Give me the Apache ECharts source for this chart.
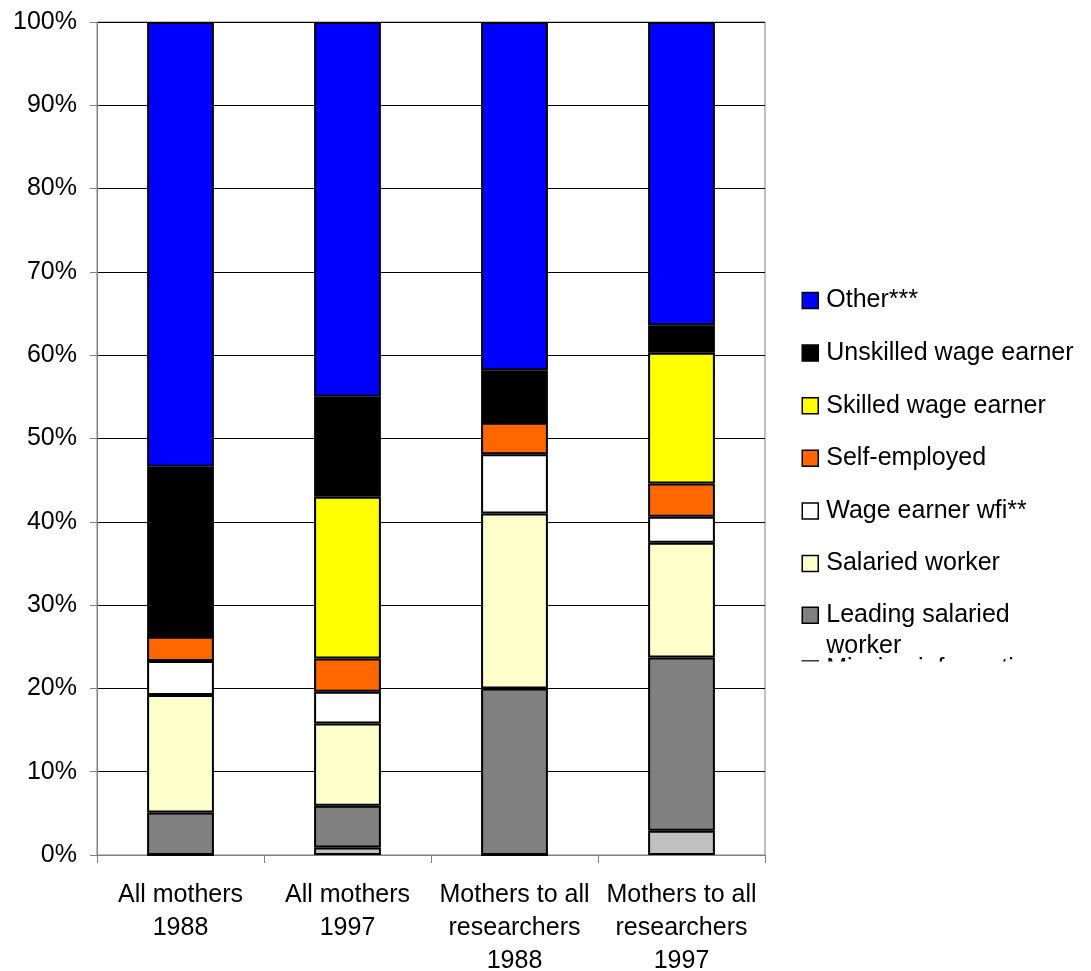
<!DOCTYPE html>
<html>
<head>
<meta charset="utf-8">
<script src="https://cdn.jsdelivr.net/npm/echarts@6/dist/echarts.min.js"></script>
<style>
  html, body { margin: 0; padding: 0; background: #fff; }
  #chart { width: 1091px; height: 971px; }
</style>
</head>
<body>
<div id="chart"></div>
<script>
// Occupation of mothers, share of each group (%)
const categories = [
  'All mothers\n1988',
  'All mothers\n1997',
  'Mothers to all\nresearchers\n1988',
  'Mothers to all\nresearchers\n1997'
];
const yTicks = [0, 10, 20, 30, 40, 50, 60, 70, 80, 90, 100];

const missingInfo   = [0,    0.9,  0,    2.9];
const leadingSalary = [5.1,  5.0,  20.0, 20.8];
const salaried      = [14.1, 9.9,  21.0, 13.8];
const wageEarnerWfi = [4.1,  3.8,  7.1,  3.1];
const selfEmployed  = [2.9,  4.0,  3.8,  4.0];
const skilled       = [0,    19.4, 0,    15.7];
const unskilled     = [20.4, 12.0, 6.3,  3.3];
const other         = [53.4, 45.0, 41.8, 36.4];

const FONT = '"Liberation Sans", Arial, sans-serif';
const FS = 25;

const seriesDefs = [
  { name: 'Missing information',     data: missingInfo,   color: '#C0C0C0' },
  { name: 'Leading salaried worker', data: leadingSalary, color: '#808080' },
  { name: 'Salaried worker',         data: salaried,      color: '#FFFFCC' },
  { name: 'Wage earner wfi**',       data: wageEarnerWfi, color: '#FFFFFF' },
  { name: 'Self-employed',           data: selfEmployed,  color: '#FF6600' },
  { name: 'Skilled wage earner',     data: skilled,       color: '#FFFF00' },
  { name: 'Unskilled wage earner',   data: unskilled,     color: '#000000' },
  { name: 'Other***',                data: other,         color: '#0000FF' }
];

function legendText(pad) {
  return {
    fontFamily: FONT,
    fontSize: FS,
    lineHeight: 31,
    color: '#000',
    padding: pad,
    rich: {
      t: { fontFamily: FONT, fontSize: FS, lineHeight: 31, color: '#000' }
    }
  };
}

// shared look of the legend blocks on the right
function legendBlock(top, gap, names, pad, fmt) {
  return {
    orient: 'vertical',
    left: 801.5,
    top: top,
    padding: 0,
    itemGap: gap,
    itemWidth: 16,
    itemHeight: 16,
    icon: 'rect',
    selectedMode: false,
    itemStyle: { borderColor: '#000', borderWidth: 1.5 },
    textStyle: legendText(pad),
    formatter: fmt,
    data: names
  };
}

const plain = function (name) { return '{t|' + name + '}'; };

const chart = echarts.init(document.getElementById('chart'), null, { renderer: 'canvas' });

chart.setOption({
  animation: false,
  backgroundColor: '#fff',
  grid: {
    left: 97, right: 326, top: 22, bottom: 116,
    outerBoundsMode: 'none',
    containLabel: false,
    show: true, borderColor: '#808080', borderWidth: 1
  },
  legend: [
    legendBlock(285, 21.6, [
      'Other***',
      'Unskilled wage earner',
      'Skilled wage earner',
      'Self-employed',
      'Wage earner wfi**',
      'Salaried worker'
    ], [0, 0, 0, 3], plain),
    legendBlock(568.7, 0, ['Leading salaried worker'], [31, 0, 0, 3], function () {
      return '{t|Leading salaried}\n{t|worker}';
    }),
    legendBlock(653.5, 0, ['Missing information'], [0, 0, 0, 3], plain)
  ],
  // the legend box ends just below the last visible line
  graphic: [
    {
      type: 'rect',
      left: 795,
      top: 661.5,
      z: 100,
      shape: { width: 296, height: 80 },
      style: { fill: '#fff' }
    }
  ],
  xAxis: {
    type: 'category',
    data: categories,
    axisLine: { lineStyle: { color: '#808080', width: 1 } },
    axisTick: { show: true, length: 8, lineStyle: { color: '#808080' } },
    axisLabel: {
      interval: 0,
      margin: 24,
      fontFamily: FONT,
      fontSize: FS,
      lineHeight: 33,
      color: '#000',
      align: 'center'
    }
  },
  yAxis: {
    type: 'value',
    min: yTicks[0],
    max: yTicks[yTicks.length - 1],
    interval: yTicks[1] - yTicks[0],
    axisLine: { show: true, lineStyle: { color: '#808080', width: 1 } },
    axisTick: { show: true, length: 7, lineStyle: { color: '#808080' } },
    splitLine: { show: true, lineStyle: { color: '#000', width: 1 } },
    axisLabel: {
      margin: 20,
      fontFamily: FONT,
      fontSize: FS,
      color: '#000',
      formatter: '{value}%'
    }
  },
  series: seriesDefs.map(function (s) {
    return {
      name: s.name,
      type: 'bar',
      stack: 'total',
      data: s.data,
      barWidth: '40%',
      itemStyle: { color: s.color, borderColor: '#000', borderWidth: 2 },
      emphasis: { disabled: true }
    };
  })
});
</script>
</body>
</html>
